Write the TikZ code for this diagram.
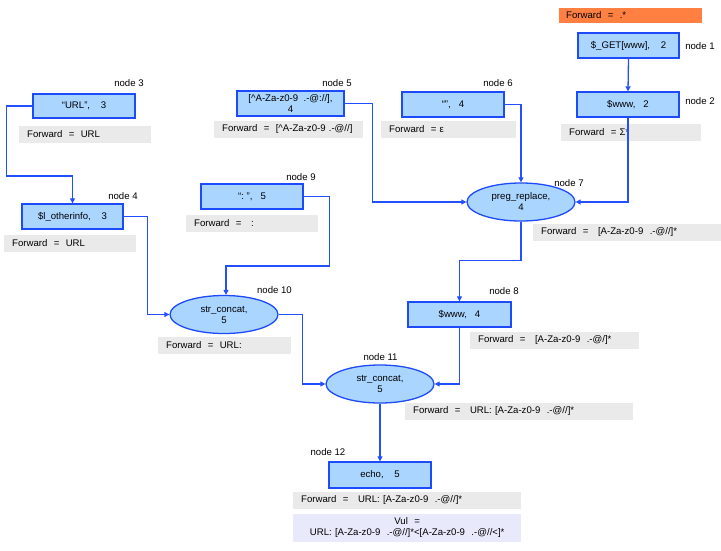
\documentclass[tikz,border=0pt]{standalone}
\usepackage{fontspec}
\setmainfont{Liberation Sans}
\usetikzlibrary{arrows.meta,shapes.geometric}

\definecolor{boxfill}{RGB}{170,213,255}
\definecolor{boxline}{RGB}{30,75,250}
\definecolor{wire}{RGB}{35,80,255}
\definecolor{barfill}{RGB}{234,234,234}
\definecolor{vulfill}{RGB}{232,234,252}
\definecolor{srcfill}{RGB}{255,128,64}

\tikzset{
  txt/.style={font=\fontsize{9.6}{11}\selectfont},
  opbox/.style={txt, draw=boxline, line width=1.3pt, fill=boxfill, rectangle,
    inner sep=0pt, align=center, minimum width=102pt, minimum height=25pt},
  opell/.style={txt, draw=boxline, line width=1.3pt, fill=boxfill, ellipse,
    inner sep=0pt, align=center, minimum width=108pt, minimum height=38pt},
  bar/.style={txt, fill=barfill, rectangle, inner ysep=0pt, inner xsep=8pt,
    minimum height=17pt, align=left, anchor=west},
  tag/.style={txt, inner sep=0pt},
  wirearrow/.style={draw=wire, line width=1.3pt,
    -{Triangle[length=5pt,width=5pt]}},
}

\begin{document}
\begin{tikzpicture}[x=1pt,y=-1pt]
\useasboundingbox (0,0) rectangle (721,550);

% source annotation
\node[bar, fill=srcfill, minimum width=143pt, minimum height=15pt, inner xsep=7pt,
  text width=129pt] (src) at (559,15.5) {Forward~~=~~.*};

% operation boxes
\node[opbox, minimum width=101pt] (n1) at (628.5,45.5) {\$\_GET[www],~~~~2};
\node[opbox] (n2) at (628,104.5) {\$www,~~~2};
\node[opbox, minimum height=24pt] (n3) at (84,106) {“URL”,~~~~3};
\node[opbox, minimum width=101pt] (n4) at (72.5,216.5) {\$l\_otherinfo,~~~~3};
\node[opbox, minimum width=107pt] (n5) at (290.5,103.5)
  {[\textasciicircum A-Za-z0-9~~.-@://],\\4};
\node[opbox] (n6) at (453,104.5) {“”,~~~4};
\node[opell] (n7) at (521,202) {preg\_replace,\\4};
\node[opbox, minimum width=103pt] (n8) at (459.5,314.5) {\$www,~~~4};
\node[opbox] (n9) at (252,196.5) {“:~”,~~~5};
\node[opell] (n10) at (224,314.5) {str\_concat,\\5};
\node[opell] (n11) at (380,384) {str\_concat,\\5};
\node[opbox, minimum height=26pt] (n12) at (380,475) {echo,~~~~5};

% node tags
\node[tag] (t1) at (700,46.5) {node 1};
\node[tag] (t2) at (700,101) {node 2};
\node[tag] (t3) at (129,83) {node 3};
\node[tag] (t4) at (123,196) {node 4};
\node[tag] (t5) at (337,83) {node 5};
\node[tag] (t6) at (498,83) {node 6};
\node[tag] (t7) at (569,183) {node 7};
\node[tag] (t8) at (504,291) {node 8};
\node[tag] (t9) at (301,177.5) {node 9};
\node[tag] (t10) at (274.5,290.5) {node 10};
\node[tag] (t11) at (380.5,357) {node 11};
\node[tag] (t12) at (328,452) {node 12};

% forward annotations
\node[bar, minimum width=140pt, text width=124pt] (f2) at (561,132) {Forward~~=~Σ*};
\node[bar, minimum width=132pt, text width=116pt] (f3) at (19,134) {Forward~~=~~URL};
\node[bar, minimum width=132pt, text width=116pt] (f4) at (4,243.5) {Forward~~=~~URL};
\node[bar, minimum width=149pt, text width=133pt] (f5) at (214,129.5)
  {Forward~~=~~[\textasciicircum A-Za-z0-9~.-@//]};
\node[bar, minimum width=135pt, text width=119pt] (f6) at (381,129.5) {Forward~~=~ε};
\node[bar, minimum width=188pt, text width=172pt] (f7) at (533,232.5)
  {Forward~~=~~~[A-Za-z0-9~~.-@//]*};
\node[bar, minimum width=169pt, text width=153pt] (f8) at (470,340.5)
  {Forward~~=~~~[A-Za-z0-9~~.-@/]*};
\node[bar, minimum width=132pt, text width=116pt] (f9) at (186,223) {Forward~~=~~~:};
\node[bar, minimum width=133pt, text width=117pt] (f10) at (158,345) {Forward~~=~~URL:};
\node[bar, minimum width=228pt, text width=212pt] (f11) at (405,411.5)
  {Forward~~=~~~URL:~[A-Za-z0-9~~.-@//]*};
\node[bar, minimum width=228pt, text width=212pt] (f12) at (293,500.5)
  {Forward~~=~~~URL:~[A-Za-z0-9~~.-@//]*};
\node[bar, fill=vulfill, minimum width=228pt, minimum height=28pt, text width=212pt,
  align=center] (vul) at (293,528)
  {Vul~~=\\URL:~[A-Za-z0-9~~.-@//]*<[A-Za-z0-9~~.-@//<]*};

% data-flow connectors
\draw[wirearrow] (n1.south) -- (n2.north);
\draw[wirearrow] (n2.south) |- (n7.east);
\draw[wirearrow] (n6.east) -| (n7.north);
\draw[wirearrow] (n5.east) -- ++(28,0) |- (n7.west);
\draw[wirearrow] (n3.west) -- ++(-26,0) -- ++(0,70) -| (n4.north);
\draw[wirearrow] (n4.east) -- ++(24,0) |- (n10.west);
\draw[wirearrow] (n9.east) -- ++(26,0) -- ++(0,69.5) -| ([xshift=2pt]n10.north);
\draw[wirearrow] (n7.south) -- ++(0,39) -| (n8.north);
\draw[wirearrow] (n10.east) -- ++(24,0) |- (n11.west);
\draw[wirearrow] (n8.south) |- (n11.east);
\draw[wirearrow] (n11.south) -- (n12.north);
\end{tikzpicture}
\end{document}
